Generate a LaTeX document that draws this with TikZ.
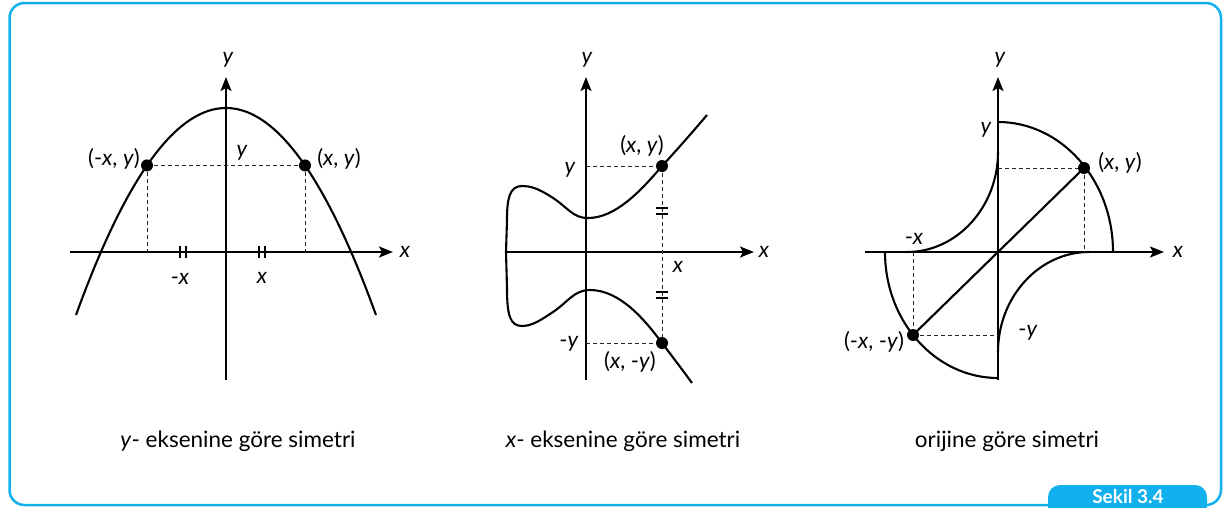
\documentclass[tikz,border=0pt]{standalone}
\usepackage{fontspec}
\setmainfont{Lato}
\usetikzlibrary{arrows.meta}
\definecolor{frameblue}{RGB}{18,176,236}
\begin{document}
\begin{tikzpicture}[x=1pt,y=-1pt,
  axis/.style={line width=2.2pt,-{Stealth[length=14pt,width=11pt,inset=3pt]}},
  curve/.style={line width=2.1pt},
  guide/.style={line width=0.9pt,dash pattern=on 4pt off 3pt,black!85},
  dotpt/.style={circle,fill=black,inner sep=0pt,minimum size=12pt},
  lbl/.style={font=\fontsize{22}{26}\selectfont,inner sep=0pt},
  caption/.style={font=\fontsize{22.5}{26}\selectfont,inner sep=0pt,anchor=base},
  tickmark/.style={line width=1.4pt}]

\useasboundingbox (0,0) rectangle (1223,507);
% frame and tab
\draw[frameblue,line width=2.5pt,rounded corners=15pt] (9.5,3) rectangle (1221,505);
\fill[frameblue,rounded corners=12pt] (1048,485) rectangle (1207,540);
\node[text=white,font=\bfseries\fontsize{19}{22}\selectfont,anchor=base,inner sep=0pt] (tab) at (1128,503) {Sekil 3.4};

% ---------------- panel 1 ----------------
\coordinate (O1) at (226,252);
\coordinate (X1a) at (70,252);
\coordinate (X1b) at (393,252);
\coordinate (Y1a) at (226,380);
\coordinate (Y1b) at (226,77);
\draw[axis] (X1a) -- (X1b);
\draw[axis] (Y1a) -- (Y1b);
\draw[curve] plot[domain=-150:150,samples=80] ({226+\x},{108+(0.09592*\x)*(0.09592*\x)});
\coordinate (P1L) at (147,165.4);
\coordinate (P1R) at (305,165.4);
\draw[guide] (P1L) -- (P1R);
\draw[guide] (P1L) -- (P1L |- O1);
\draw[guide] (P1R) -- (P1R |- O1);
\node[dotpt] (d1L) at (P1L) {};
\node[dotpt] (d1R) at (P1R) {};
\draw[tickmark] (180,246) -- (180,258) (186,246) -- (186,258);
\draw[tickmark] (259,246) -- (259,258) (265,246) -- (265,258);
\node[lbl] (t1x) at (405,252) {\textit{x}};
\node[lbl] (t1y) at (228,60) {\textit{y}};
\node[lbl] (t1yy) at (242,153) {\textit{y}};
\node[lbl] (t1mx) at (180,279) {-\textit{x}};
\node[lbl] (t1xx) at (262,278) {\textit{x}};
\node[lbl] (t1pl) at (114,159) {(-\textit{x}, \textit{y})};
\node[lbl] (t1pr) at (339,159) {(\textit{x}, \textit{y})};
\node[caption] (c1) at (238,447) {\textit{y}- eksenine göre simetri};

% ---------------- panel 2 ----------------
\coordinate (O2) at (586,252);
\coordinate (X2a) at (505,252);
\coordinate (X2b) at (754,252);
\coordinate (Y2a) at (586,380);
\coordinate (Y2b) at (586,77);
\draw[axis] (X2a) -- (X2b);
\draw[axis] (Y2a) -- (Y2b);
\coordinate (P2u) at (662,166);
\coordinate (P2d) at (662,343);
\draw[curve] (707,115) .. controls (690,135) and (675,152) .. (P2u)
  .. controls (640,192) and (615,218) .. (588,218)
  .. controls (572,218) and (568,207) .. (550,196)
  .. controls (537,188) and (530,186) .. (522,186)
  .. controls (509,186) and (507,200) .. (507,220)
  -- (506,252) -- (507,288)
  .. controls (507,315) and (510,326) .. (522,326)
  .. controls (532,326) and (541,320) .. (553,312)
  .. controls (568,302) and (574,290) .. (590,290)
  .. controls (620,290) and (645,320) .. (P2d)
  .. controls (675,360) and (684,372) .. (692,383);
\draw[guide] (P2u -| O2) -- (P2u);
\draw[guide] (P2d -| O2) -- (P2d);
\draw[guide] (P2u) -- (P2d);
\node[dotpt] (d2u) at (P2u) {};
\node[dotpt] (d2d) at (P2d) {};
\draw[tickmark] (656,208) -- (668,208) (656,214) -- (668,214);
\draw[tickmark] (656,292) -- (668,292) (656,298) -- (668,298);
\node[lbl] (t2x) at (764,252) {\textit{x}};
\node[lbl] (t2y) at (587,60) {\textit{y}};
\node[lbl] (t2yy) at (570,170) {\textit{y}};
\node[lbl] (t2my) at (569,344) {-\textit{y}};
\node[lbl] (t2xx) at (678,267) {\textit{x}};
\node[lbl] (t2pu) at (642,146) {(\textit{x}, \textit{y})};
\node[lbl] (t2pd) at (630,362) {(\textit{x}, -\textit{y})};
\node[caption] (c2) at (623,447) {\textit{x}- eksenine göre simetri};

% ---------------- panel 3 ----------------
\coordinate (O3) at (998,252);
\coordinate (X3a) at (865,252);
\coordinate (X3b) at (1164,252);
\coordinate (Y3a) at (998,380);
\coordinate (Y3b) at (998,77);
\draw[axis] (X3a) -- (X3b);
\draw[axis] (Y3a) -- (Y3b);
\coordinate (P3) at (1084,168);
\coordinate (P3m) at (913,335);
\draw[curve] (998,122) .. controls (1061.5,122) and (1113,180.2) .. (1113,252);
\draw[curve] (885,252) .. controls (885,321.6) and (935.6,378) .. (998,378);
\draw[curve] (907,252) .. controls (957,252) and (998,207) .. (998,152);
\draw[curve] (1089,252) .. controls (1039,252) and (998,297) .. (998,352);
\draw[curve] (P3m) -- (P3);
\draw[guide] (P3 -| O3) -- (P3);
\draw[guide] (P3) -- (P3 |- O3);
\draw[guide] (P3m |- O3) -- (P3m);
\draw[guide] (P3m) -- (P3m -| O3);
\node[dotpt] (d3) at (P3) {};
\node[dotpt] (d3m) at (P3m) {};
\node[lbl] (t3x) at (1178,252) {\textit{x}};
\node[lbl] (t3y) at (1000,60) {\textit{y}};
\node[lbl] (t3yy) at (986,130) {\textit{y}};
\node[lbl] (t3mx) at (914,239) {-\textit{x}};
\node[lbl] (t3my) at (1028,333) {-\textit{y}};
\node[lbl] (t3p) at (1120,163) {(\textit{x}, \textit{y})};
\node[lbl] (t3pm) at (874,342) {(-\textit{x}, -\textit{y})};
\node[caption] (c3) at (1007,447) {orijine göre simetri};
\end{tikzpicture}
\end{document}
